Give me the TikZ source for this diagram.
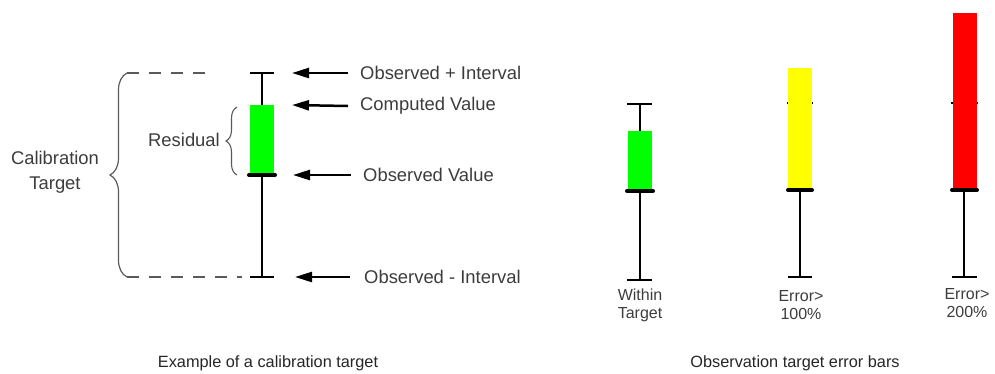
\documentclass[tikz,border=0pt]{standalone}
\usepackage{fontspec}
\setmainfont{Liberation Sans}
\usetikzlibrary{arrows.meta,decorations.pathreplacing}

\definecolor{txtgray}{HTML}{3C3C3C}
\definecolor{bracegray}{HTML}{5A5A5A}
\definecolor{okgreen}{HTML}{00FF00}
\definecolor{warnyellow}{HTML}{FFFF00}
\definecolor{badred}{HTML}{FF0000}

\begin{document}
\begin{tikzpicture}[x=1pt,y=-1pt,
  lbl/.style={font=\fontsize{18.4}{25}\selectfont, text=txtgray, inner sep=0pt},
  smalllbl/.style={font=\fontsize{16}{18}\selectfont, text=txtgray, align=center, inner sep=0pt},
  caption/.style={font=\fontsize{16.3}{18}\selectfont, text=black!85, inner sep=0pt},
  stem/.style={line width=2.2pt},
  tbar/.style={line width=2.7pt},
  obsbar/.style={line width=4pt, line cap=round},
  ptr/.style={-{Triangle[length=17pt,width=10pt]}, line width=2.5pt},
  guide/.style={dashed, dash pattern=on 12pt off 10pt, line width=1.3pt, draw=bracegray},
  bigbrace/.style={decorate, decoration={brace, amplitude=17pt, aspect=0.5}, line width=1.2pt, draw=bracegray},
  smallbrace/.style={decorate, decoration={brace, amplitude=11pt, aspect=0.5}, line width=1.1pt, draw=bracegray},
  valbox/.style={draw=none, minimum width=24pt, inner sep=0pt, anchor=north west}
]
\useasboundingbox (0,0) rectangle (995,373);

% ---------- calibration target example ----------
\coordinate (hiL) at (262,73);
\coordinate (loL) at (262,277);
\draw[stem] (hiL) -- (loL);
\draw[tbar] (250,73) -- (274,73);
\draw[tbar] (250,277) -- (274,277);
\node[valbox, fill=okgreen, minimum height=70pt] (resbox) at (250,105) {};
\draw[obsbar] (249,175) -- (275,175);

% dashed guides and braces
\draw[guide] (127,73) -- (213,73);
\draw[guide] (127,277) -- (242,277);
\draw[bigbrace] (127,277) -- (127,73);
\draw[smallbrace] (237,175) -- (237,107);

\node[lbl, align=center] (calib) at (55,172) {Calibration\\Target};
\node[lbl, anchor=east] (resid) at (220,140) {Residual};

% pointer labels
\node[lbl, anchor=west] (oplus) at (360,73) {Observed + Interval};
\node[lbl, anchor=west] (comp) at (360,106) {Computed Value};
\node[lbl, anchor=west] (oval) at (363,175) {Observed Value};
\node[lbl, anchor=west] (ominus) at (364,277) {Observed - Interval};

\coordinate (tA) at (292,73);
\coordinate (tB) at (292,105);
\coordinate (tC) at (293,175);
\coordinate (tD) at (295,277);
\draw[ptr] ([xshift=-12pt]oplus.west) -- (tA);
\draw[ptr] ([xshift=-12pt]comp.west) -- (tB);
\draw[ptr] ([xshift=-12pt]oval.west) -- (tC);
\draw[ptr] ([xshift=-14pt]ominus.west) -- (tD);

\node[caption] (capL) at (268,363) {Example of a calibration target};

% ---------- observation error bars ----------
% within target
\draw[stem] (640,104) -- (640,280);
\draw[tbar] (627,104) -- (652,104);
\draw[tbar] (627,280) -- (652,280);
\node[valbox, fill=okgreen, minimum height=60pt] (gbox) at (628,131) {};
\draw[obsbar] (627,191) -- (653,191);
\node[smalllbl] (within) at (640,305) {Within\\Target};

% error > 100%
\draw[line width=1.5pt] (787,103) -- (813,103);
\node[valbox, fill=warnyellow, minimum height=122pt] (ybox) at (788,68) {};
\draw[stem] (800,190) -- (800,277);
\draw[tbar] (788,277) -- (812,277);
\draw[obsbar] (788,190) -- (812,190);
\node[smalllbl] (e100) at (801,305) {Error>\\100\%};

% error > 200%
\draw[line width=1.5pt] (951,103) -- (978,103);
\node[valbox, fill=badred, minimum height=177pt] (rbox) at (953,13) {};
\draw[stem] (964,190) -- (964,277);
\draw[tbar] (952,277) -- (977,277);
\draw[obsbar] (952,190) -- (977,190);
\node[smalllbl] (e200) at (967,303) {Error>\\200\%};

\node[caption] (capR) at (795,363) {Observation target error bars};
\end{tikzpicture}
\end{document}
